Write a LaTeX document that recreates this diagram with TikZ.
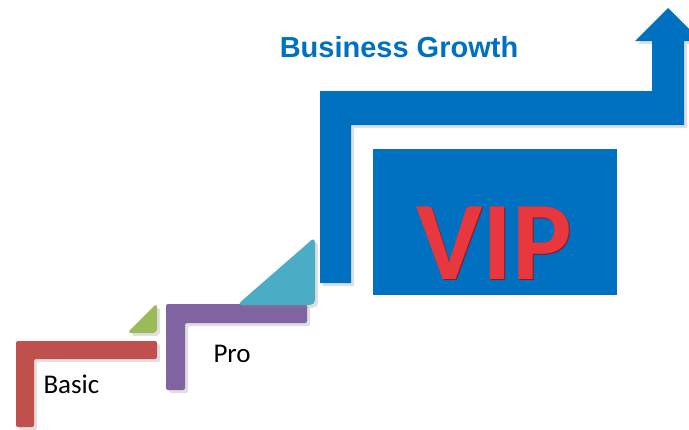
\documentclass[tikz,border=0pt]{standalone}
\usepackage{fontspec}
\setmainfont{Carlito}
\newfontfamily\arialfont{Liberation Sans}
\usetikzlibrary{shadows}
\definecolor{stepred}{HTML}{C0504D}
\definecolor{stepgreen}{HTML}{9BBB59}
\definecolor{steppurple}{HTML}{8064A2}
\definecolor{stepcyan}{HTML}{4BACC6}
\definecolor{growthblue}{HTML}{0070C0}
\definecolor{vipred}{HTML}{E8383D}
\definecolor{vipdark}{HTML}{8E1A1E}

\begin{document}
\begin{tikzpicture}[x=1pt,y=-1pt,
    stepshape/.style={rounded corners=2pt, drop shadow={shadow xshift=3pt, shadow yshift=-3pt, opacity=0.25}},
    steplabel/.style={anchor=base west, font=\fontsize{27}{32}\selectfont}]
    \useasboundingbox (0,0) rectangle (689,429);
    \clip (0,0) rectangle (689,429);
    % Trappor
    \fill[stepred, stepshape] (16,427) -- (16,341) -- (157,341) -- (157,359) -- (34,359) -- (34,427) -- cycle;
    \fill[stepgreen, stepshape, rounded corners=4pt] (127,333) -- (157,303) -- (157,333) -- cycle;
    \fill[steppurple, stepshape] (166,390) -- (166,304) -- (307,304) -- (307,323) -- (185,323) -- (185,390) -- cycle;
    \fill[stepcyan, stepshape, rounded corners=5pt] (237,305) -- (315,237) -- (315,305) -- cycle;
    % Pilen
    \fill[growthblue, drop shadow={shadow xshift=3pt, shadow yshift=-3pt, opacity=0.25}] (320,283) -- (320,91) -- (652,91) -- (652,41) -- (635,41) -- (668,8) -- (701,41) -- (684,41) -- (684,125) -- (351,125) -- (351,283) -- cycle;
    % VIP
    \node (vipbox) [rectangle, fill=growthblue, inner sep=0pt, minimum width=244pt, minimum height=146pt, anchor=north west] at (373,149) {};
    \node (vipshade) [anchor=base, font=\bfseries\fontsize{112}{112}\selectfont, text=vipdark] at (495.5,280.5) {VIP};
    \node (vip) [anchor=base, font=\bfseries\fontsize{112}{112}\selectfont, text=vipred] at (494,279) {VIP};
    % Texter
    \node (title) [anchor=base, font=\arialfont\bfseries\fontsize{29}{34}\selectfont, text=growthblue] at (399,57) {Business Growth};
    \node (basic) [steplabel] at (40,393) {Basic};
    \node (pro) [steplabel] at (210,362) {Pro};
\end{tikzpicture}
\end{document}
